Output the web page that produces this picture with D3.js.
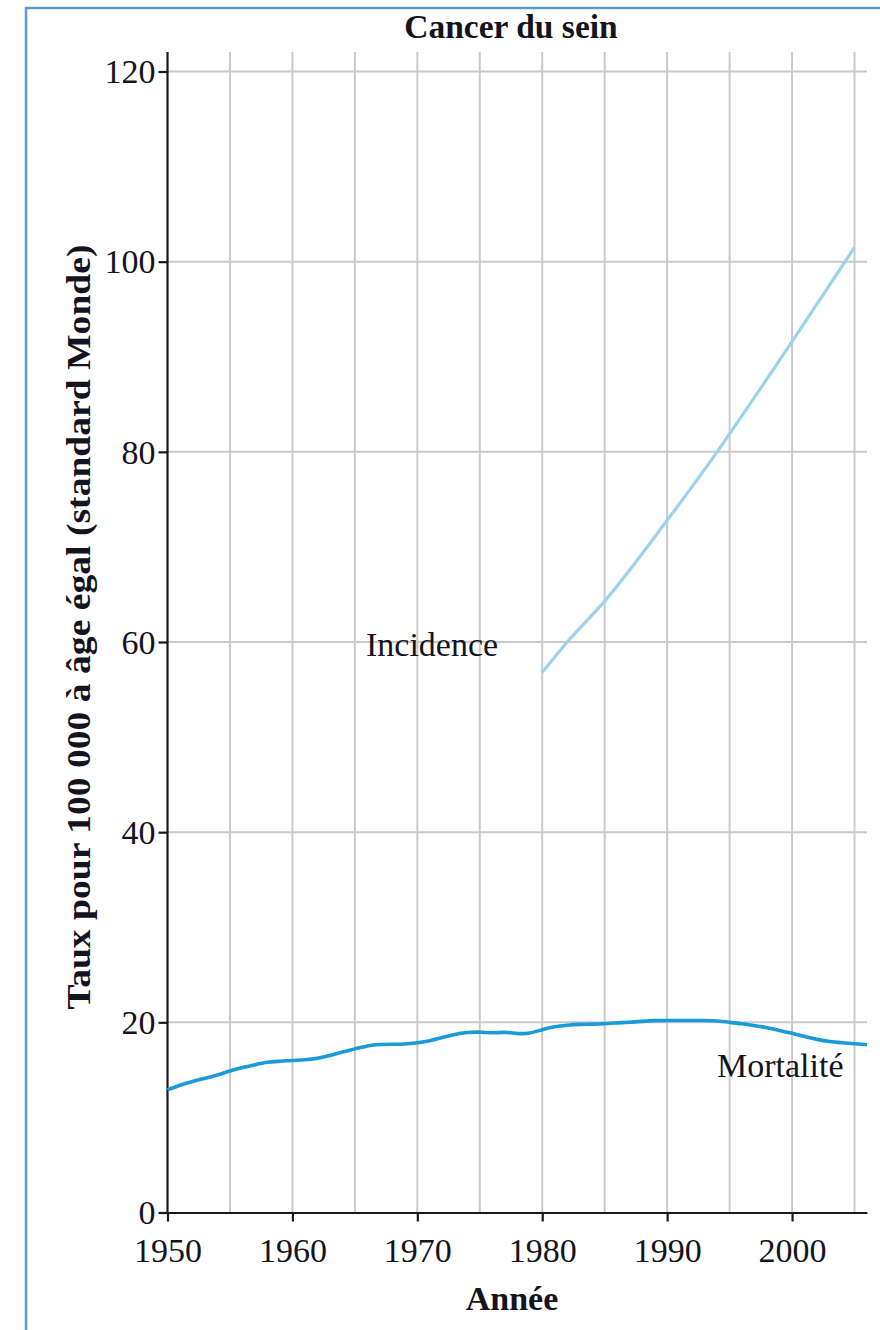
<!DOCTYPE html>
<html>
<head>
<meta charset="utf-8">
<script src="https://cdn.jsdelivr.net/npm/d3@7"></script>
<style>
  body { margin: 0; background: #fff; }
  text { font-family: "Liberation Serif", "Times New Roman", serif; fill: #141420; }
</style>
</head>
<body>
<svg width="880" height="1330"></svg>
<script>
// Data
const mortality_years = d3.range(1950, 2007)
const mortality_values = [
    12.9, 13.4, 13.8, 14.1, 14.45, 14.9, 15.25, 15.55, 15.85, 15.9,
    16.0, 16.05, 16.2, 16.5, 16.9, 17.2, 17.55, 17.7, 17.7, 17.7,
    17.85, 18.05, 18.4, 18.75, 18.95, 19.0, 18.85, 19.0, 18.8, 18.8,
    19.25, 19.55, 19.7, 19.8, 19.8, 19.85, 19.95, 20.0, 20.1, 20.2,
    20.2, 20.2, 20.2, 20.2, 20.15, 20.0, 19.85, 19.65, 19.45, 19.15,
    18.85, 18.5, 18.2, 17.95, 17.85, 17.75, 17.65
]
const incidence_years = [1980, 1982, 1985, 1990, 1994, 1995, 2000, 2005]
const incidence_values = [56.8, 60.0, 64.3, 72.8, 80.0, 81.9, 91.6, 101.5]

const x_ticks = [1950, 1960, 1970, 1980, 1990, 2000]
const x_grid = d3.range(1955, 2006, 5)
const y_ticks = [0, 20, 40, 60, 80, 100, 120]

const svg = d3.select("svg")

// Blue frame
svg.append("rect")
    .attr("x", 26).attr("y", 8)
    .attr("width", 900).attr("height", 1400)
    .attr("fill", "none")
    .attr("stroke", "#5b9bd5")
    .attr("stroke-width", 2.5)

// Scales
const x = d3.scaleLinear().domain([1950, 2006]).range([167.5, 867])
const y = d3.scaleLinear().domain([0, 120]).range([1212.5, 71.5])
const y_top = 52

// Grid
const grid = svg.append("g")
grid.selectAll(".vgrid")
    .data(x_grid)
    .enter()
    .append("line")
    .attr("x1", d => x(d)).attr("x2", d => x(d))
    .attr("y1", y_top).attr("y2", y(0))
    .attr("stroke", "#cacaca")
    .attr("stroke-width", 2)
grid.selectAll(".hgrid")
    .data(y_ticks.filter(d => d > 0))
    .enter()
    .append("line")
    .attr("x1", x(1950)).attr("x2", x(2006))
    .attr("y1", d => y(d)).attr("y2", d => y(d))
    .attr("stroke", "#cacaca")
    .attr("stroke-width", 2)

// Axes
const x_axis = svg.append("g")
    .attr("transform", `translate(0,${y(0)})`)
    .call(d3.axisBottom(x).tickValues(x_ticks).tickFormat(d3.format("d")).tickSize(9).tickPadding(16).tickSizeOuter(0))
x_axis.select(".domain").attr("stroke", "#1a1a1a").attr("stroke-width", 2.2)
x_axis.selectAll(".tick line").attr("stroke", "#1a1a1a").attr("stroke-width", 2.2)
x_axis.selectAll("text")
    .attr("font-size", "34px")
    .attr("font-family", "Liberation Serif")
    .attr("fill", "#141420")

const y_axis = svg.append("g")
    .attr("transform", `translate(${x(1950)},0)`)
    .call(d3.axisLeft(y).tickValues(y_ticks).tickSize(9).tickPadding(3).tickSizeOuter(0))
y_axis.select(".domain").remove()
y_axis.append("line")
    .attr("x1", 0).attr("x2", 0)
    .attr("y1", y_top).attr("y2", y(0))
    .attr("stroke", "#1a1a1a")
    .attr("stroke-width", 2.2)
y_axis.selectAll(".tick line").attr("stroke", "#1a1a1a").attr("stroke-width", 2.2)
y_axis.selectAll("text")
    .attr("font-size", "34px")
    .attr("font-family", "Liberation Serif")
    .attr("fill", "#141420")
    .attr("dy", "0.33em")

// Lines
const line = d3.line()
    .x(d => x(d[0]))
    .y(d => y(d[1]))
    .curve(d3.curveMonotoneX)

svg.append("path")
    .datum(d3.zip(incidence_years, incidence_values))
    .attr("d", line)
    .attr("fill", "none")
    .attr("stroke", "#9dd1f0")
    .attr("stroke-width", 3.2)

svg.append("path")
    .datum(d3.zip(mortality_years, mortality_values))
    .attr("d", line.curve(d3.curveBasis))
    .attr("fill", "none")
    .attr("stroke", "#1b9ad9")
    .attr("stroke-width", 3.6)

// Labels
svg.append("text")
    .attr("x", 366).attr("y", 656)
    .attr("font-size", "34px")
    .text("Incidence")

svg.append("text")
    .attr("x", 717).attr("y", 1077)
    .attr("font-size", "34px")
    .text("Mortalité")

svg.append("text")
    .attr("x", 511).attr("y", 38)
    .attr("text-anchor", "middle")
    .attr("font-size", "33.5px")
    .attr("font-weight", "bold")
    .text("Cancer du sein")

svg.append("text")
    .attr("x", 512).attr("y", 1310)
    .attr("text-anchor", "middle")
    .attr("font-size", "34px")
    .attr("font-weight", "bold")
    .text("Année")

svg.append("text")
    .attr("transform", "translate(90,627) rotate(-90)")
    .attr("text-anchor", "middle")
    .attr("font-size", "34px")
    .attr("font-weight", "bold")
    .attr("textLength", 765)
    .attr("lengthAdjust", "spacingAndGlyphs")
    .text("Taux pour 100 000 à âge égal (standard Monde)")
</script>
</body>
</html>
